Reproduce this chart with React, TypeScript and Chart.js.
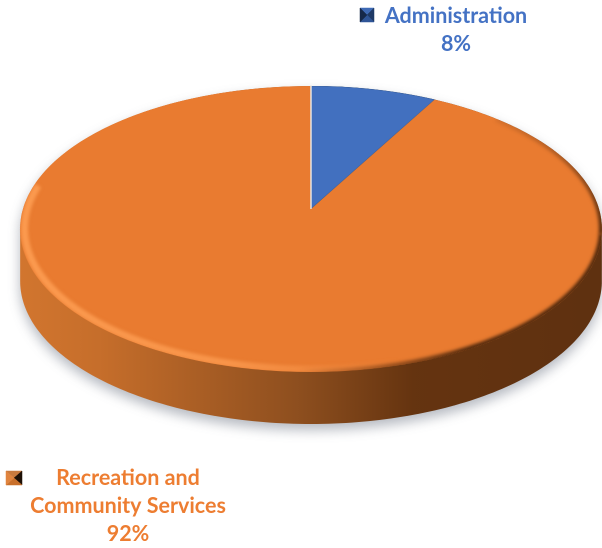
import React, { useEffect, useRef } from "react";
import { Chart, registerables } from "chart.js";

Chart.register(...registerables);

const categories = ["Administration", "Recreation and Community Services"];
const shares = [8, 92];
const sliceColors = ["#4270BF", "#E97B30"];
const labelColors = ["#4472C4", "#ED7D31"];
const adminLines = ["Administration"];
const recreationLines = ["Recreation and", "Community Services"];

const WIDTH = 602;
const HEIGHT = 548;
const DPR = 2;

// Tilted-disc projection: u, v are unit-circle coordinates of the flat pie.
const APEX_X = 311;
const RADIUS = 288;
const PERSPECTIVE = -0.14;
const TILT = 110.9;
const APEX_Y = 209;
const WALL = 52;

const project = (u: number, v: number) => {
  const w = 1 / (1 + PERSPECTIVE * v);
  return { x: APEX_X + RADIUS * u * w, y: (TILT * v + APEX_Y) * w };
};

const trace = (ctx: CanvasRenderingContext2D, from: number, to: number, inset = 1) => {
  ctx.beginPath();
  for (let d = from; d <= to; d += 1) {
    const t = (d * Math.PI) / 180;
    const p = project(Math.cos(t) * inset, Math.sin(t) * inset);
    if (d === from) ctx.moveTo(p.x, p.y);
    else ctx.lineTo(p.x, p.y);
  }
};

const drawWall = (ctx: CanvasRenderingContext2D) => {
  const g = ctx.createLinearGradient(19, 0, 600, 0);
  g.addColorStop(0, "#D2762F");
  g.addColorStop(0.14, "#C66E2B");
  g.addColorStop(0.48, "#8E4F1F");
  g.addColorStop(0.68, "#653410");
  g.addColorStop(1, "#5F3110");
  ctx.save();
  ctx.beginPath();
  for (let d = 0; d <= 360; d += 1) {
    const t = (d * Math.PI) / 180;
    const p = project(Math.cos(t), Math.sin(t));
    const y = Math.sin(t) > 0.14 ? p.y + WALL : p.y;
    if (d === 0) ctx.moveTo(p.x, p.y);
    else ctx.lineTo(p.x, y);
  }
  ctx.closePath();
  ctx.shadowColor = "rgba(60,70,90,0.38)";
  ctx.shadowBlur = 24;
  ctx.shadowOffsetY = 12;
  ctx.fillStyle = g;
  ctx.fill();
  ctx.restore();
};

// Re-lays the flat pie, row by row, onto the tilted disc.
const drawFace = (ctx: CanvasRenderingContext2D, flat: HTMLCanvasElement, cx: number, cy: number, rs: number) => {
  const top = Math.floor(project(0, -1).y * DPR);
  const bottom = Math.ceil(project(0, 1).y * DPR);
  ctx.save();
  ctx.setTransform(1, 0, 0, 1, 0, 0);
  ctx.imageSmoothingEnabled = true;
  ctx.imageSmoothingQuality = "high";
  const toV = (y: number) => (y - APEX_Y) / (TILT - PERSPECTIVE * y);
  for (let row = top; row < bottom; row += 1) {
    const v0 = toV(row / DPR);
    const v1 = toV((row + 1) / DPR);
    const w = 1 / (1 + PERSPECTIVE * (v0 + v1) * 0.5);
    const scale = (RADIUS * w) / rs;
    const dx = (APEX_X - cx * scale) * DPR;
    ctx.drawImage(flat, 0, (cy + v0 * rs) * DPR, flat.width, (v1 - v0) * rs * DPR, dx, row, flat.width * scale, 1);
  }
  ctx.restore();
};

const drawRimShading = (ctx: CanvasRenderingContext2D) => {
  ctx.save();
  trace(ctx, 0, 360);
  ctx.closePath();
  ctx.clip();
  ctx.filter = "blur(3px)";

  // Light catching the near-left bevel
  const glow = ctx.createLinearGradient(19, 0, 400, 0);
  glow.addColorStop(0, "rgba(255,160,85,0.85)");
  glow.addColorStop(0.55, "rgba(255,160,85,0.7)");
  glow.addColorStop(1, "rgba(255,160,85,0)");
  trace(ctx, 70, 190, 0.985);
  ctx.strokeStyle = glow;
  ctx.lineWidth = 7;
  ctx.stroke();

  // Falling away into shade on the far-right bevel
  const joinY = project(Math.cos(Math.PI / 18), Math.sin(Math.PI / 18)).y;
  const upper = ctx.createLinearGradient(0, 120, 0, joinY);
  upper.addColorStop(0, "rgba(70,35,10,0.1)");
  upper.addColorStop(1, "rgba(70,35,10,0.9)");
  trace(ctx, -45, 10);
  ctx.strokeStyle = upper;
  ctx.lineWidth = 6;
  ctx.stroke();

  const lower = ctx.createLinearGradient(300, 0, 470, 0);
  lower.addColorStop(0, "rgba(70,35,10,0)");
  lower.addColorStop(1, "rgba(70,35,10,0.9)");
  trace(ctx, 10, 95);
  ctx.strokeStyle = lower;
  ctx.lineWidth = 6;
  ctx.stroke();
  ctx.restore();
};

const drawMarker = (ctx: CanvasRenderingContext2D, x: number, y: number, w: number, h: number, faces: string[]) => {
  const m = { x: x + w / 2, y: y + h / 2 };
  const corners = [
    { x, y },
    { x: x + w, y },
    { x: x + w, y: y + h },
    { x, y: y + h },
  ];
  faces.forEach((color, i) => {
    const a = corners[i];
    const b = corners[(i + 1) % 4];
    ctx.beginPath();
    ctx.moveTo(a.x, a.y);
    ctx.lineTo(b.x, b.y);
    ctx.lineTo(m.x, m.y);
    ctx.closePath();
    ctx.fillStyle = color;
    ctx.strokeStyle = color;
    ctx.lineWidth = 0.5;
    ctx.fill();
    ctx.stroke();
  });
};

const drawLabels = (ctx: CanvasRenderingContext2D) => {
  ctx.save();
  ctx.font = "bold 21.5px Lato";
  ctx.textAlign = "center";
  ctx.textBaseline = "middle";

  ctx.fillStyle = labelColors[0];
  adminLines.forEach((line, i) => ctx.fillText(line, 456, 16 + i * 28));
  ctx.fillText(`${shares[0]}%`, 456, 16 + adminLines.length * 28);

  ctx.fillStyle = labelColors[1];
  recreationLines.forEach((line, i) => ctx.fillText(line, 128, 478 + i * 28));
  ctx.fillText(`${shares[1]}%`, 128, 478 + recreationLines.length * 28);

  drawMarker(ctx, 360, 8, 14, 14, ["#3F6AB5", "#1F3A66", "#2F5597", "#16294A"]);
  drawMarker(ctx, 6, 471, 16, 14, ["#C87A3E", "#1E1006", "#C9702B", "#E0843E"]);
  ctx.restore();
};

const tiltedPie = {
  id: "tiltedPie",
  afterDraw(chart: Chart) {
    const arc: any = chart.getDatasetMeta(0).data[0];
    const ctx = chart.ctx;
    const flat = document.createElement("canvas");
    flat.width = chart.canvas.width;
    flat.height = chart.canvas.height;
    flat.getContext("2d")!.drawImage(chart.canvas, 0, 0);

    ctx.save();
    ctx.clearRect(0, 0, WIDTH, HEIGHT);
    drawWall(ctx);
    drawFace(ctx, flat, arc.x, arc.y, arc.outerRadius);
    drawRimShading(ctx);

    // Pale seam along the first slice's leading edge
    const a = project(0, 0);
    const b = project(0, -1);
    ctx.beginPath();
    ctx.moveTo(a.x, a.y);
    ctx.lineTo(b.x, b.y - 1);
    ctx.strokeStyle = "rgba(238,236,232,0.95)";
    ctx.lineWidth = 1.5;
    ctx.stroke();

    drawLabels(ctx);
    ctx.restore();
  },
};

export default function App() {
  const ref = useRef<HTMLCanvasElement>(null);
  useEffect(() => {
    const chart = new Chart(ref.current!, {
      type: "pie",
      data: {
        labels: categories,
        datasets: [
          {
            data: shares,
            backgroundColor: sliceColors,
            borderColor: ["#34598F", "#E97B30"],
            borderWidth: [1, 0],
          },
        ],
      },
      options: {
        animation: false,
        responsive: false,
        devicePixelRatio: DPR,
        layout: { padding: 0 },
        plugins: { legend: { display: false }, tooltip: { enabled: false } },
      },
      plugins: [tiltedPie],
    });
    return () => chart.destroy();
  }, []);
  return (
    <div style={{ position: "absolute", left: 0, top: 0 }}>
      <canvas ref={ref} width={WIDTH} height={HEIGHT} style={{ display: "block" }} />
    </div>
  );
}
